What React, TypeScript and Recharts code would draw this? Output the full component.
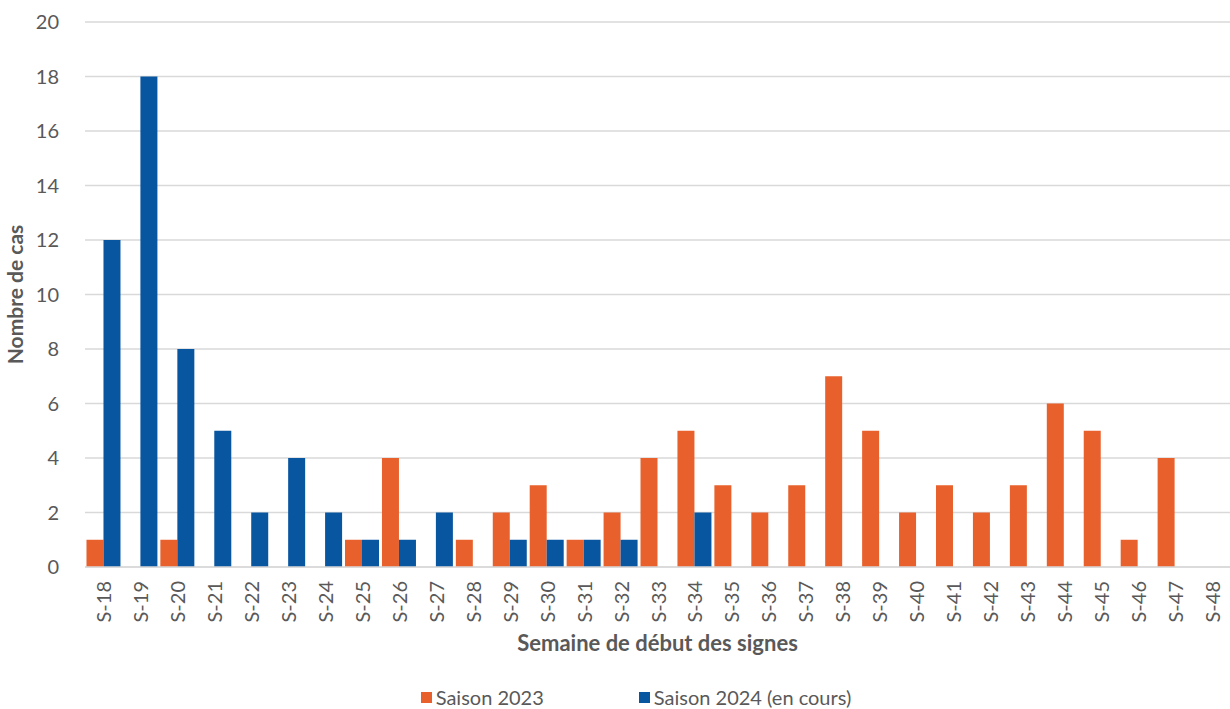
import { BarChart, Bar, XAxis, YAxis, CartesianGrid, Legend } from 'recharts';

const weeks = [
  'S-18', 'S-19', 'S-20', 'S-21', 'S-22', 'S-23', 'S-24', 'S-25', 'S-26', 'S-27', 'S-28',
  'S-29', 'S-30', 'S-31', 'S-32', 'S-33', 'S-34', 'S-35', 'S-36', 'S-37', 'S-38', 'S-39',
  'S-40', 'S-41', 'S-42', 'S-43', 'S-44', 'S-45', 'S-46', 'S-47', 'S-48'
];
const saison2023 = [1, 0, 1, 0, 0, 0, 0, 1, 4, 0, 1, 2, 3, 1, 2, 4, 5, 3, 2, 3, 7, 5, 2, 3, 2, 3, 6, 5, 1, 4, 0];
const saison2024 = [12, 18, 8, 5, 2, 4, 2, 1, 1, 2, 0, 1, 1, 1, 1, 0, 2, 0, 0, 0, 0, 0, 0, 0, 0, 0, 0, 0, 0, 0, 0];
const yTicks = [0, 2, 4, 6, 8, 10, 12, 14, 16, 18, 20];

const data = weeks.map((w, i) => ({ week: w, s2023: saison2023[i], s2024: saison2024[i] }));

const FONT = 'Lato, "Open Sans", sans-serif';
const TEXT = '#595959';
const ORANGE = '#E8612C';
const BLUE = '#0856A0';

const WeekTick = (props: any) => {
  const { x, y, payload } = props;
  return (
    <text
      x={x}
      y={y}
      transform={`rotate(-90, ${x}, ${y})`}
      textAnchor="end"
      dominantBaseline="central"
      fill={TEXT}
      fontSize={20}
      fontFamily={FONT}
    >
      {payload.value}
    </text>
  );
};

const renderLegend = () => (
  <div style={{ display: 'flex', justifyContent: 'center', fontFamily: FONT, fontSize: 20, color: TEXT, paddingLeft: 42 }}>
    <div style={{ display: 'flex', alignItems: 'center', marginRight: 95 }}>
      <span style={{ width: 11, height: 11, background: ORANGE, display: 'inline-block', marginRight: 4 }} />
      Saison 2023
    </div>
    <div style={{ display: 'flex', alignItems: 'center' }}>
      <span style={{ width: 11, height: 11, background: BLUE, display: 'inline-block', marginRight: 4 }} />
      Saison 2024 (en cours)
    </div>
  </div>
);

export default function App() {
  return (
    <div style={{ position: 'absolute', left: 0, top: 0, width: 1230, height: 709, background: '#fff' }}>
      <BarChart
        width={1230}
        height={709}
        data={data}
        margin={{ top: 22, right: 0, left: 0, bottom: 0 }}
        barCategoryGap="4%"
        barGap={0}
      >
        <CartesianGrid vertical={false} stroke="#d9d9d9" strokeWidth={1.5} />
        <XAxis
          dataKey="week"
          interval={0}
          tickLine={false}
          axisLine={{ stroke: '#d9d9d9', strokeWidth: 1.5 }}
          tick={<WeekTick />}
          tickMargin={8}
          height={118}
          label={{
            value: 'Semaine de début des signes',
            position: 'insideBottom',
            offset: 34,
            fill: TEXT,
            fontSize: 22,
            fontWeight: 700,
            fontFamily: FONT
          }}
        />
        <YAxis
          domain={[0, 20]}
          ticks={yTicks}
          interval={0}
          width={85}
          tickLine={false}
          axisLine={false}
          tickMargin={20}
          tick={{ fill: TEXT, fontSize: 20, fontFamily: FONT }}
          label={{
            value: 'Nombre de cas',
            angle: -90,
            position: 'insideLeft',
            offset: 16,
            style: { textAnchor: 'middle' },
            fill: TEXT,
            fontSize: 21,
            fontWeight: 700,
            fontFamily: FONT
          }}
        />
        <Legend verticalAlign="bottom" content={renderLegend} />
        <Bar dataKey="s2023" name="Saison 2023" fill={ORANGE} isAnimationActive={false} />
        <Bar dataKey="s2024" name="Saison 2024 (en cours)" fill={BLUE} isAnimationActive={false} />
      </BarChart>
    </div>
  );
}
